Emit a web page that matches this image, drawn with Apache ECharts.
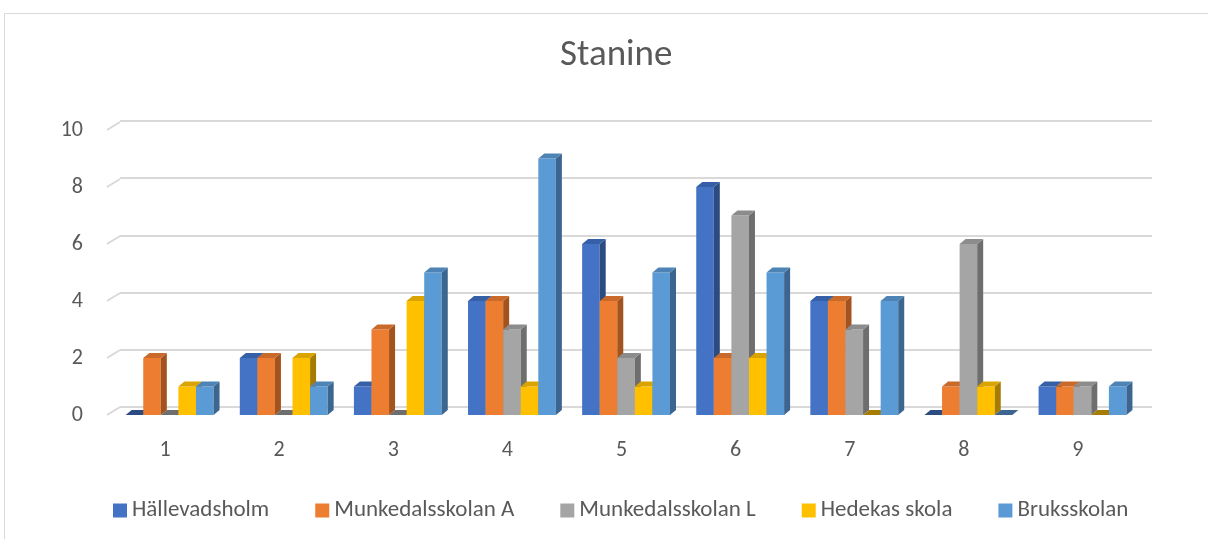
<!DOCTYPE html>
<html>
<head>
<meta charset="utf-8">
<script src="https://cdn.jsdelivr.net/npm/echarts@6/dist/echarts.min.js"></script>
<style>
html,body{margin:0;padding:0;background:#fff;}
#chart{width:1208px;height:539px;}
</style>
</head>
<body>
<div id="chart"></div>
<script>
var categories = ['1','2','3','4','5','6','7','8','9'];
var seriesNames = ['Hällevadsholm','Munkedalsskolan A','Munkedalsskolan L','Hedekas skola','Bruksskolan'];
var hallevadsholm    = [0,2,1,4,6,8,4,0,1];
var munkedalsskolanA = [2,2,3,4,4,2,4,1,1];
var munkedalsskolanL = [0,0,0,3,2,7,3,6,1];
var hedekasSkola     = [1,2,4,1,1,2,0,1,0];
var bruksskolan      = [1,1,5,9,5,5,4,0,1];
var yTicks = [0,2,4,6,8,10];

var seriesValues = [hallevadsholm, munkedalsskolanA, munkedalsskolanL, hedekasSkola, bruksskolan];
var frontColors = ['#4472C4','#ED7D31','#A5A5A5','#FFC000','#5B9BD5'];
var topColors   = ['#3560A8','#C9692A','#8C8C8C','#D9A300','#4D84B5'];
var sideColors  = ['#2C4B80','#A3531E','#6E6E6E','#A67C00','#3C6690'];
var FONT = "Carlito, 'Liberation Sans', Arial, sans-serif";

var chart = echarts.init(document.getElementById('chart'), null, {renderer:'canvas'});

function makeBarSeries(idx){
  return {
    name: seriesNames[idx],
    type: 'custom',
    xAxisIndex: 0, yAxisIndex: 0,
    itemStyle: {color: frontColors[idx]},
    data: seriesValues[idx].map(function(v,i){ return [i, v]; }),
    renderItem: function(params, api){
      var cat = api.value(0), val = api.value(1);
      var base = api.coord([cat, 0]);
      var topPt = api.coord([cat, val]);
      var band = api.size([1,0])[0];
      var bw = band*0.154;
      var x0 = base[0] - band*0.345 + idx*bw;
      var x1 = x0 + bw;
      var yb = base[1], yt = topPt[1];
      var dx = 6, dy = 5;
      var children = [];
      if (val > 0) {
        children.push({type:'rect', shape:{x:x0, y:yt, width:bw, height:yb-yt},
          style:{fill:frontColors[idx]}});
        children.push({type:'polygon', shape:{points:[[x1,yt],[x1+dx,yt-dy],[x1+dx,yb-dy],[x1,yb]]},
          style:{fill:sideColors[idx]}});
      }
      children.push({type:'polygon', shape:{points:[[x0,yt],[x0+dx,yt-dy],[x1+dx,yt-dy],[x1,yt]]},
        style:{fill: val > 0 ? topColors[idx] : sideColors[idx]}});
      return {type:'group', children:children};
    },
    z: 3 + idx
  };
}

var series = [];
// slanted grid stubs at the left wall
series.push({
  type:'custom', xAxisIndex:0, yAxisIndex:0, silent:true, z:1,
  data: yTicks.map(function(t){ return [0, t]; }),
  renderItem: function(params, api){
    var p = api.coord([0, api.value(1)]);
    var band = api.size([1,0])[0];
    var x = p[0] - band/2;
    return {type:'line', shape:{x1:x-1, y1:p[1], x2:x+12, y2:p[1]-8},
      style:{stroke:'#d9d9d9', lineWidth:2}};
  }
});
for (var i=0;i<5;i++) series.push(makeBarSeries(i));

var option = {
  backgroundColor:'#ffffff',
  animation:false,
  title:{
    text:'Stanine', left:555, top:32,
    textStyle:{fontFamily:FONT, fontSize:37, fontWeight:'normal', color:'#595959'}
  },
  legend:{
    data: seriesNames,
    top:494, left:108,
    itemWidth:14, itemHeight:14, itemGap:46,
    icon:'rect',
    textStyle:{fontFamily:FONT, fontSize:23, color:'#595959'}
  },
  graphic:[{
    type:'rect', z:-10,
    shape:{x:4.5, y:13.5, width:1220, height:540},
    style:{fill:'none', stroke:'#d9d9d9', lineWidth:1}
  }],
  grid:[
    {left:108, right:73, top:130, bottom:124},
    {left:120, right:56, top:121, bottom:132}
  ],
  xAxis:[
    {type:'category', gridIndex:0, data:categories, boundaryGap:true,
     axisLine:{show:false}, axisTick:{show:false},
     axisLabel:{fontFamily:FONT, fontSize:22, color:'#595959', margin:24}},
    {type:'category', gridIndex:1, data:categories, show:false}
  ],
  yAxis:[
    {type:'value', gridIndex:0, min:0, max:10, interval:2,
     axisLine:{show:false}, axisTick:{show:false}, splitLine:{show:false},
     axisLabel:{fontFamily:FONT, fontSize:22, color:'#595959', margin:25}},
    {type:'value', gridIndex:1, min:0, max:10, interval:2,
     axisLine:{show:false}, axisTick:{show:false}, axisLabel:{show:false},
     splitLine:{show:true, lineStyle:{color:'#d9d9d9', width:2}}}
  ],
  series: series
};
chart.setOption(option);
</script>
</body>
</html>
